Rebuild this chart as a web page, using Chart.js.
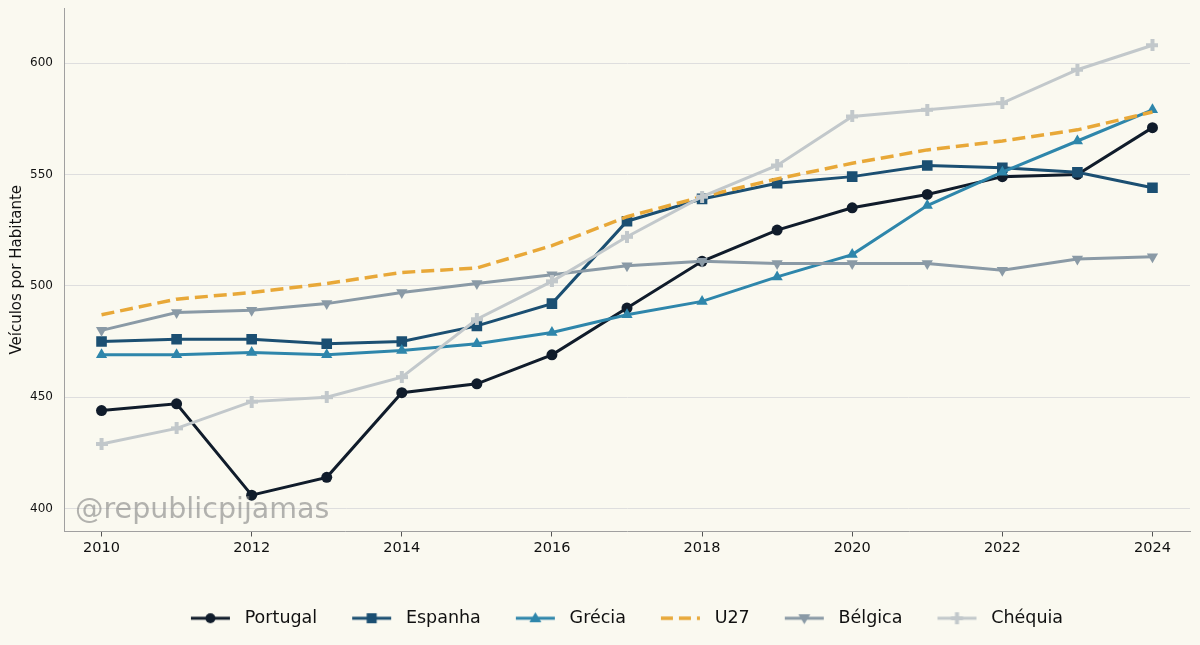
<!DOCTYPE html>
<html><head><meta charset="utf-8">
<script src="https://cdn.jsdelivr.net/npm/chart.js@4/dist/chart.umd.min.js"></script>
<style>
html,body{margin:0;padding:0;background:#faf9f0;}
#wrap{width:1200px;height:645px;position:relative;}
</style></head>
<body><div id="wrap"><canvas id="c" width="1200" height="645"></canvas></div>
<script>
const years = [2010,2011,2012,2013,2014,2015,2016,2017,2018,2019,2020,2021,2022,2023,2024];
const portugal = [444,447,406,414,452,456,469,490,511,525,535,541,549,550,571];
const espanha  = [475,476,476,474,475,482,492,529,539,546,549,554,553,551,544];
const grecia   = [469,469,470,469,471,474,479,487,493,504,514,536,551,565,579];
const u27      = [487,494,497,501,506,508,518,531,540,548,555,561,565,570,578];
const belgica  = [480,488,489,492,497,501,505,509,511,510,510,510,507,512,513];
const chequia  = [429,436,448,450,459,485,502,522,540,554,576,579,582,597,608];
const seriesNames = ['Portugal','Espanha','Grécia','U27','Bélgica','Chéquia'];
const yTicks = [400,450,500,550,600];
const xTicks = [2010,2012,2014,2016,2018,2020,2022,2024];

const colors = ['#101c2b','#1b4f72','#2e86ab','#e8a838','#8a9aa6','#c2c8cb'];

function plusCanvas(color, s){
  const c=document.createElement('canvas'); c.width=s; c.height=s;
  const x=c.getContext('2d'); x.fillStyle=color;
  const t=Math.round(s*0.36); const o=(s-t)/2;
  x.fillRect(o,0,t,s); x.fillRect(0,o,s,t);
  return c;
}
const plusImg = plusCanvas(colors[5], 12);

const styles = [
  {pointStyle:'circle', radius:5.5, rot:0, dash:[]},
  {pointStyle:'rect', radius:7.5, rot:0, dash:[]},
  {pointStyle:'triangle', radius:6.5, rot:0, dash:[]},
  {pointStyle:false, radius:0, rot:0, dash:[13,6]},
  {pointStyle:'triangle', radius:6.5, rot:180, dash:[]},
  {pointStyle:plusImg, radius:6, rot:0, dash:[]}
];
const allData = [portugal, espanha, grecia, u27, belgica, chequia];

const LEG_W = 70, LEG_A = 25, LEG_S = 39;
function legendIcon(i){
  const w=LEG_W,h=16; const c=document.createElement('canvas'); c.width=w; c.height=h;
  const x=c.getContext('2d');
  x.strokeStyle=colors[i]; x.lineWidth= i===3?3.5:3;
  x.setLineDash(i===3?[12,6]:[]);
  x.beginPath(); x.moveTo(LEG_A,h/2); x.lineTo(LEG_A+LEG_S,h/2); x.stroke();
  x.setLineDash([]);
  x.fillStyle=colors[i];
  const cx=LEG_A+LEG_S/2, cy=h/2;
  if(i===0){ x.beginPath(); x.arc(cx,cy,5,0,Math.PI*2); x.fill(); }
  else if(i===1){ x.fillRect(cx-5,cy-5,10,10); }
  else if(i===2){ x.beginPath(); x.moveTo(cx,cy-6); x.lineTo(cx+6,cy+4); x.lineTo(cx-6,cy+4); x.closePath(); x.fill(); }
  else if(i===4){ x.beginPath(); x.moveTo(cx,cy+6); x.lineTo(cx+6,cy-4); x.lineTo(cx-6,cy-4); x.closePath(); x.fill(); }
  else if(i===5){ x.fillRect(cx-2,cy-6,4,12); x.fillRect(cx-6,cy-2,12,4); }
  return c;
}

const datasets = seriesNames.map((n,i)=>({
  label:n,
  data: years.map((y,k)=>({x:y,y:allData[i][k]})),
  borderColor:colors[i], backgroundColor:colors[i],
  borderWidth: i===3?3.5:3,
  borderDash: styles[i].dash,
  pointStyle: styles[i].pointStyle,
  pointRadius: styles[i].radius,
  pointRotation: styles[i].rot,
  pointBorderWidth: 0,
  pointBackgroundColor: colors[i],
  tension:0,
  order: 10-i
}));

const bgPlugin = {
  id:'bg',
  beforeDraw(chart){ const c=chart.ctx; c.save(); c.fillStyle='#faf9f0'; c.fillRect(0,0,chart.width,chart.height); c.restore(); }
};
const legendShift = {
  id:'legendShift',
  afterLayout(chart){ if(chart.legend){ chart.legend.left -= LEG_A; } }
};
const wmPlugin = {
  id:'wm',
  afterDatasetsDraw(chart){
    const c=chart.ctx; c.save();
    c.font='28.5px "DejaVu Sans"'; c.fillStyle='rgba(130,130,130,0.6)';
    c.textBaseline='middle'; c.textAlign='left';
    c.fillText('@republicpijamas', 75, 511);
    c.restore();
  }
};

new Chart(document.getElementById('c'), {
  type:'line',
  data:{datasets},
  plugins:[bgPlugin, legendShift, wmPlugin],
  options:{
    responsive:false, animation:false, devicePixelRatio:1,
    layout:{padding:{left:0,right:10,top:8,bottom:8}},
    plugins:{
      tooltip:{enabled:false},
      legend:{
        position:'bottom', fullSize:false,
        labels:{
          usePointStyle:true, pointStyleWidth:LEG_W, padding:10,
          color:'#111', font:{family:'DejaVu Sans', size:17.5},
          generateLabels(chart){
            return seriesNames.map((n,i)=>({
              text:n, pointStyle:legendIcon(i), fillStyle:colors[i], strokeStyle:colors[i],
              lineWidth:0, hidden:false, datasetIndex:i, fontColor:'#111'
            }));
          }
        }
      }
    },
    scales:{
      x:{
        type:'linear', min:2009.5, max:2024.5,
        afterBuildTicks(s){ s.ticks = xTicks.map(v=>({value:v})); },
        afterFit(s){ s.height = 68; s.paddingLeft = 0; s.paddingRight = 0; },
        ticks:{ color:'#111', font:{family:'DejaVu Sans', size:14.5}, padding:3, callback:v=>String(v), maxRotation:0 },
        grid:{ drawOnChartArea:false, tickLength:5, color:'#555', tickWidth:1 },
        border:{ color:'#a0a0a0', width:1 }
      },
      y:{
        min:389.7, max:624.7,
        afterBuildTicks(s){ s.ticks = yTicks.map(v=>({value:v})); },
        afterFit(s){ s.width = 64; s.paddingTop = 0; s.paddingBottom = 0; },
        ticks:{ color:'#111', font:{family:'DejaVu Sans', size:12}, padding:5 },
        grid:{ color:'#dedede', lineWidth:1, tickLength:6, tickColor:'rgba(0,0,0,0)' },
        border:{ color:'#a0a0a0', width:1 },
        title:{ display:true, text:'Veículos por Habitante', color:'#111', font:{family:'DejaVu Sans', size:15}, padding:{top:8,bottom:0} }
      }
    }
  }
});
</script>
</body></html>
